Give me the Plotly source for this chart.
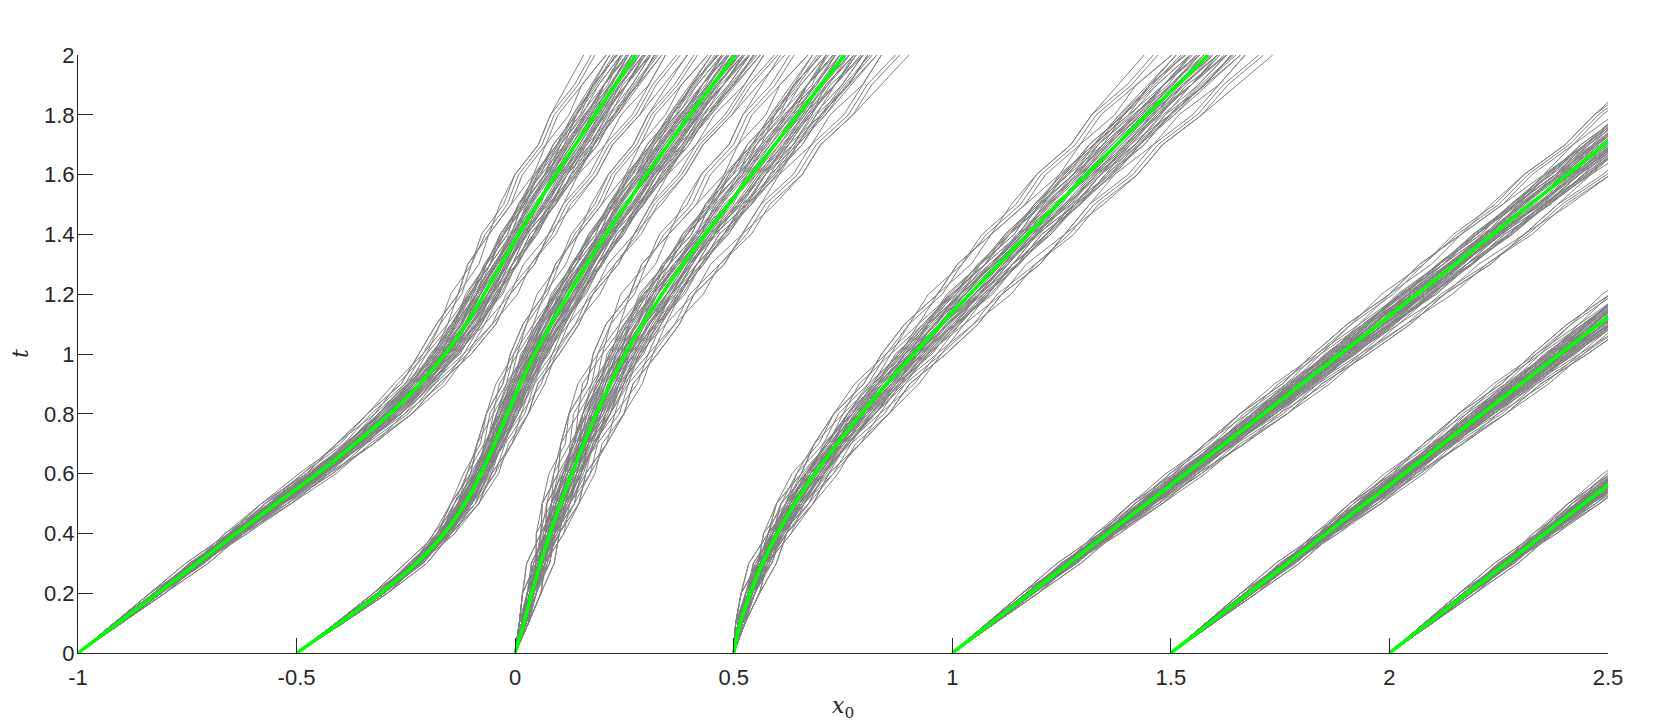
import plotly.graph_objects as go

# time levels shared by every path
t_levels = [0.0, 0.1, 0.2, 0.3, 0.4, 0.5, 0.6, 0.7, 0.8, 0.9, 1.0,
            1.1, 1.2, 1.3, 1.4, 1.5, 1.6, 1.7, 1.8, 1.9, 2.0]

# deterministic characteristics x(t), one list per starting point x0
char_m1 = [-1.000, -0.909, -0.818, -0.728, -0.638, -0.546, -0.452, -0.366, -0.287, -0.218, -0.160,
           -0.112, -0.071, -0.032, 0.008, 0.050, 0.093, 0.138, 0.183, 0.229, 0.276]
char_m05 = [-0.500, -0.402, -0.308, -0.226, -0.162, -0.115, -0.078, -0.047, -0.018, 0.012, 0.045,
            0.082, 0.122, 0.164, 0.208, 0.254, 0.301, 0.350, 0.400, 0.452, 0.505]
char_0 = [0.000, 0.020, 0.038, 0.058, 0.080, 0.104, 0.130, 0.157, 0.186, 0.217, 0.252,
          0.292, 0.336, 0.384, 0.435, 0.488, 0.541, 0.594, 0.647, 0.700, 0.754]
char_05 = [0.500, 0.515, 0.538, 0.566, 0.600, 0.640, 0.686, 0.737, 0.792, 0.850, 0.912,
           0.975, 1.040, 1.106, 1.173, 1.240, 1.308, 1.376, 1.445, 1.515, 1.586]
char_1 = [1.000, 1.089, 1.178, 1.267, 1.356, 1.445, 1.534, 1.623, 1.712, 1.800, 1.888,
          1.976, 2.063, 2.150, 2.236, 2.322, 2.407, 2.492, 2.577, 2.660, 2.745]
char_15 = [1.500, 1.589, 1.678, 1.767, 1.856, 1.945, 2.034, 2.123, 2.212, 2.301, 2.390,
           2.479, 2.568, 2.657, 2.746, 2.835, 2.924, 3.013, 3.102, 3.191, 3.280]
char_2 = [2.000, 2.089, 2.178, 2.267, 2.356, 2.445, 2.534, 2.623, 2.712, 2.801, 2.890,
          2.979, 3.068, 3.157, 3.246, 3.335, 3.424, 3.513, 3.602, 3.691, 3.780]

characteristics = [char_m1, char_m05, char_0, char_05, char_1, char_15, char_2]

# horizontal spread of each bundle (x units per offset unit)
bundle_spread = [0.0085, 0.0080, 0.0105, 0.0105, 0.0090, 0.0090, 0.0090]
# inner / outer copies of the path set
path_scales = [1.0, 0.5]

# deviation of the noisy paths from their characteristic (offset units)
path_offsets = [
    [0, 1, 2, 1, 3, 4, 3, 5, 6, 5, 7, 8, 7, 9, 8, 10, 11, 10, 12, 11, 12],
    [0, -1, -2, -1, -3, -2, -4, -5, -4, -6, -5, -7, -6, -8, -9, -8, -10, -9, -11, -10, -11],
    [0, 1, 0, 2, 1, 3, 2, 2, 4, 3, 5, 4, 4, 3, 5, 4, 6, 5, 4, 6, 5],
    [0, -1, 0, -2, -1, -2, -1, -3, -2, -2, -4, -3, -5, -4, -3, -5, -4, -6, -5, -6, -7],
    [0, 0, 1, 1, 0, 2, 3, 2, 1, 2, 1, 3, 2, 1, 2, 0, 1, 2, 1, 3, 2],
    [0, -1, -1, 0, -1, 0, 1, 0, -1, 0, 1, 0, 2, 1, 0, 1, -1, 0, 1, 0, -1],
    [0, 1, 2, 3, 2, 4, 5, 4, 6, 7, 6, 5, 7, 6, 8, 7, 6, 8, 7, 9, 8],
    [0, -1, -2, -3, -2, -4, -3, -5, -6, -5, -7, -8, -7, -9, -8, -7, -9, -8, -10, -9, -8],
    [0, 1, 1, 0, 2, 1, 0, 1, -1, 0, -2, -1, -3, -2, -1, -3, -2, -4, -3, -2, -4],
    [0, -1, 0, 1, 0, 1, 2, 1, 3, 2, 1, 3, 4, 3, 2, 4, 3, 5, 4, 3, 4],
    [0, 1, 2, 1, 2, 3, 4, 3, 5, 4, 6, 7, 9, 8, 10, 9, 11, 10, 12, 13, 14],
    [0, 0, -1, -2, -1, -3, -2, -1, -3, -4, -3, -5, -4, -3, -2, -4, -3, -2, -3, -1, -2],
    [0, 1, 0, 1, 2, 1, 2, 1, 0, 1, 2, 3, 2, 4, 3, 5, 4, 3, 5, 6, 5],
    [0, -1, 0, -1, -2, -1, 0, -1, -2, -3, -2, -1, -2, -3, -4, -3, -5, -6, -5, -6, -5],
]

x_tick_vals = [-1, -0.5, 0, 0.5, 1, 1.5, 2, 2.5]
x_tick_text = ["-1", "-0.5", "0", "0.5", "1", "1.5", "2", "2.5"]
y_tick_vals = [0, 0.2, 0.4, 0.6, 0.8, 1.0, 1.2, 1.4, 1.6, 1.8, 2.0]
y_tick_text = ["0", "0.2", "0.4", "0.6", "0.8", "1", "1.2", "1.4", "1.6", "1.8", "2"]

AXIS_COLOR = "#262626"
FONT = "Liberation Sans, Arial, sans-serif"

fig = go.Figure()

for char_x, spread in zip(characteristics, bundle_spread):
    xs, ys = [], []
    for scale in path_scales:
        for offsets in path_offsets:
            for sign in (1, -1):
                k = sign * spread * scale
                xs += [cx + k * o for cx, o in zip(char_x, offsets)] + [None]
                ys += list(t_levels) + [None]
    fig.add_trace(
        go.Scatter(
            x=xs,
            y=ys,
            mode="lines",
            line={"color": "#808080", "width": 1},
            hoverinfo="skip",
            showlegend=False,
        )
    )

for char_x in characteristics:
    fig.add_trace(
        go.Scatter(
            x=char_x,
            y=t_levels,
            mode="lines",
            line={"color": "#00ff00", "width": 3.5, "shape": "spline", "smoothing": 0.8},
            showlegend=False,
        )
    )

axis_common = dict(
    showgrid=False,
    zeroline=False,
    showline=True,
    linecolor=AXIS_COLOR,
    linewidth=1,
    ticks="inside",
    ticklen=15,
    tickwidth=1,
    tickcolor=AXIS_COLOR,
    tickfont={"family": FONT, "size": 22, "color": AXIS_COLOR},
    mirror=False,
)

fig.update_xaxes(
    range=[-1, 2.5],
    tickvals=x_tick_vals,
    ticktext=x_tick_text,
    ticklabelstandoff=5,
    **axis_common,
)
fig.update_yaxes(
    range=[0, 2],
    tickvals=y_tick_vals,
    ticktext=y_tick_text,
    ticklabelstandoff=-2,
    **axis_common,
)

# page body has an 8px margin, so the figure is sized to sit inside the window
fig.update_layout(
    width=1652,
    height=717,
    margin={"l": 70, "r": 52, "t": 47, "b": 72},
    paper_bgcolor="white",
    plot_bgcolor="white",
    annotations=[
        dict(
            text="<i>x</i><sub>0</sub>",
            xref="paper", yref="paper", x=0.5, y=0,
            yshift=-54, xanchor="center", yanchor="middle",
            showarrow=False,
            font={"family": "DejaVu Serif, serif", "size": 22, "color": AXIS_COLOR},
        ),
        dict(
            text="<i>t</i>",
            xref="paper", yref="paper", x=0, y=0.5,
            xshift=-58, xanchor="center", yanchor="middle",
            textangle=-90,
            showarrow=False,
            font={"family": "DejaVu Serif, serif", "size": 22, "color": AXIS_COLOR},
        ),
    ],
)

fig.write_html("out.html")
